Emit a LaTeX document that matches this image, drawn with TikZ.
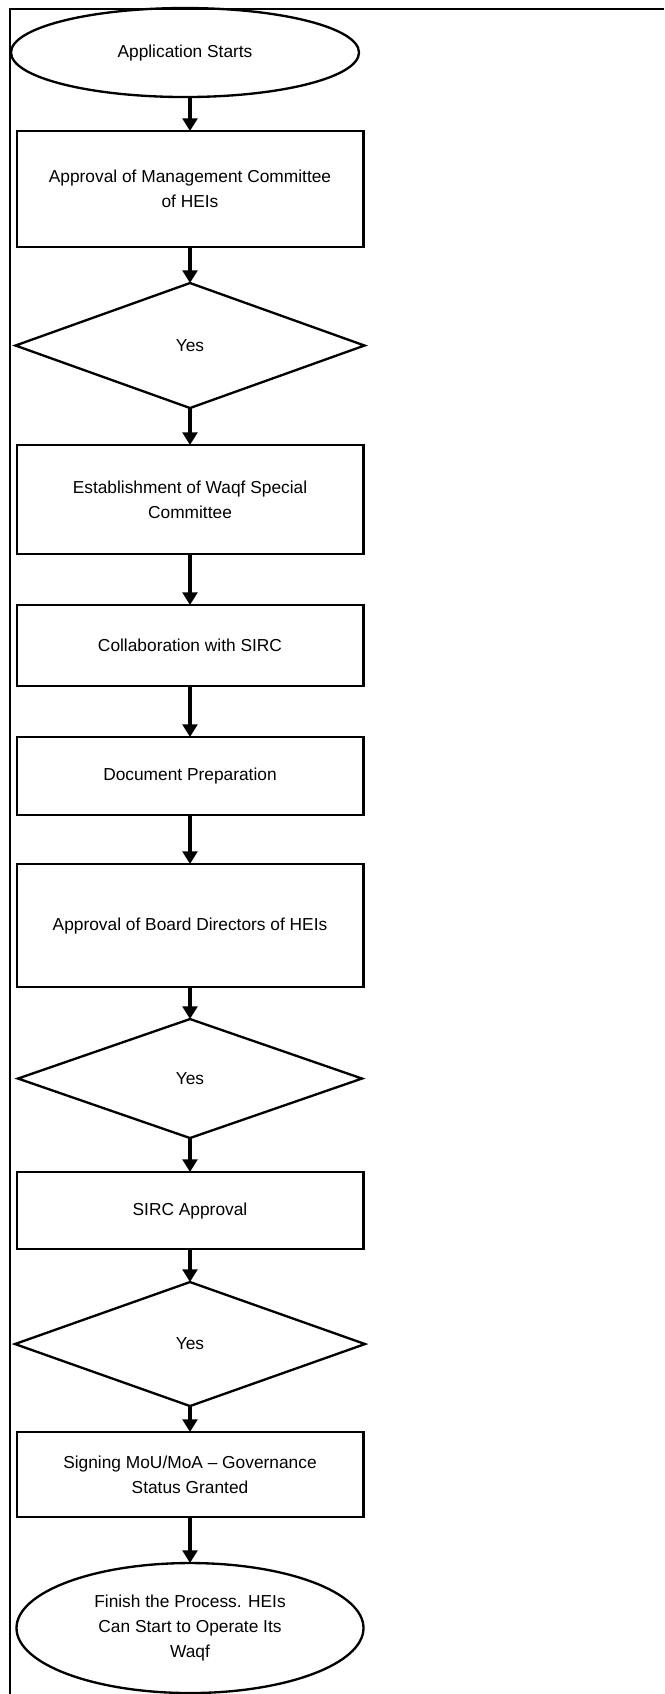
\documentclass[tikz,border=0pt]{standalone}
\usepackage{fontspec}
\setmainfont{Liberation Sans}
\usetikzlibrary{positioning,shapes.geometric,arrows.meta}

\begin{document}
\begin{tikzpicture}[
  procbox/.style={draw, line width=1.75pt, outer sep=0pt, inner sep=0pt, minimum width=260pt, align=center},
  terminal/.style={draw, ellipse, line width=1.75pt, outer sep=0pt, inner sep=0pt, align=center},
  yesno/.style={draw, diamond, line width=1.75pt, outer sep=0pt, inner sep=0pt},
  arr/.style={-{Triangle[width=11pt,length=9.5pt]}, line width=2.5pt},
  font=\fontsize{13pt}{18.75pt}\selectfont]
\useasboundingbox (0,0) rectangle (498pt,-1270.5pt);
\draw[line width=1.2pt] (7.5pt,-1270.5pt) |- (498pt,-6.75pt);
\node[terminal, minimum width=261pt, minimum height=66.75pt] (start) at (138.75pt,-39.4pt) {Application Starts};
\node[procbox, minimum height=87pt, below=25.5pt of start, xshift=3.75pt] (mgmt) {Approval of Management Committee\\of HEIs};
\node[yesno, minimum width=261.75pt, minimum height=93.75pt, below=27pt of mgmt] (yes1) {Yes};
\node[procbox, minimum height=81.75pt, below=27.75pt of yes1] (special) {Establishment of Waqf Special\\Committee};
\node[procbox, minimum height=60.75pt, below=38.25pt of special] (sirc) {Collaboration with SIRC};
\node[procbox, minimum height=58.5pt, below=38.25pt of sirc] (docs) {Document Preparation};
\node[procbox, minimum height=92.25pt, below=36.75pt of docs] (board) {Approval of Board Directors of HEIs};
\node[yesno, minimum width=258pt, minimum height=89.25pt, below=24pt of board] (yes2) {Yes};
\node[procbox, minimum height=57.75pt, below=25.5pt of yes2] (sircok) {SIRC Approval};
\node[yesno, minimum width=262.5pt, minimum height=93pt, below=24.75pt of sircok] (yes3) {Yes};
\node[procbox, minimum height=63.75pt, below=19.5pt of yes3] (mou) {Signing MoU/MoA -- Governance\\Status Granted};
\node[terminal, minimum width=260.25pt, minimum height=97.5pt, below=34.5pt of mou] (finish) {Finish the Process. HEIs\\Can Start to Operate Its\\Waqf};
\draw[arr] (start.south -| mgmt.north) -- (mgmt);
\draw[arr] (mgmt) -- (yes1);
\draw[arr] (yes1) -- (special);
\draw[arr] (special) -- (sirc);
\draw[arr] (sirc) -- (docs);
\draw[arr] (docs) -- (board);
\draw[arr] (board) -- (yes2);
\draw[arr] (yes2) -- (sircok);
\draw[arr] (sircok) -- (yes3);
\draw[arr] (yes3) -- (mou);
\draw[arr] (mou) -- (finish);
\end{tikzpicture}
\end{document}
